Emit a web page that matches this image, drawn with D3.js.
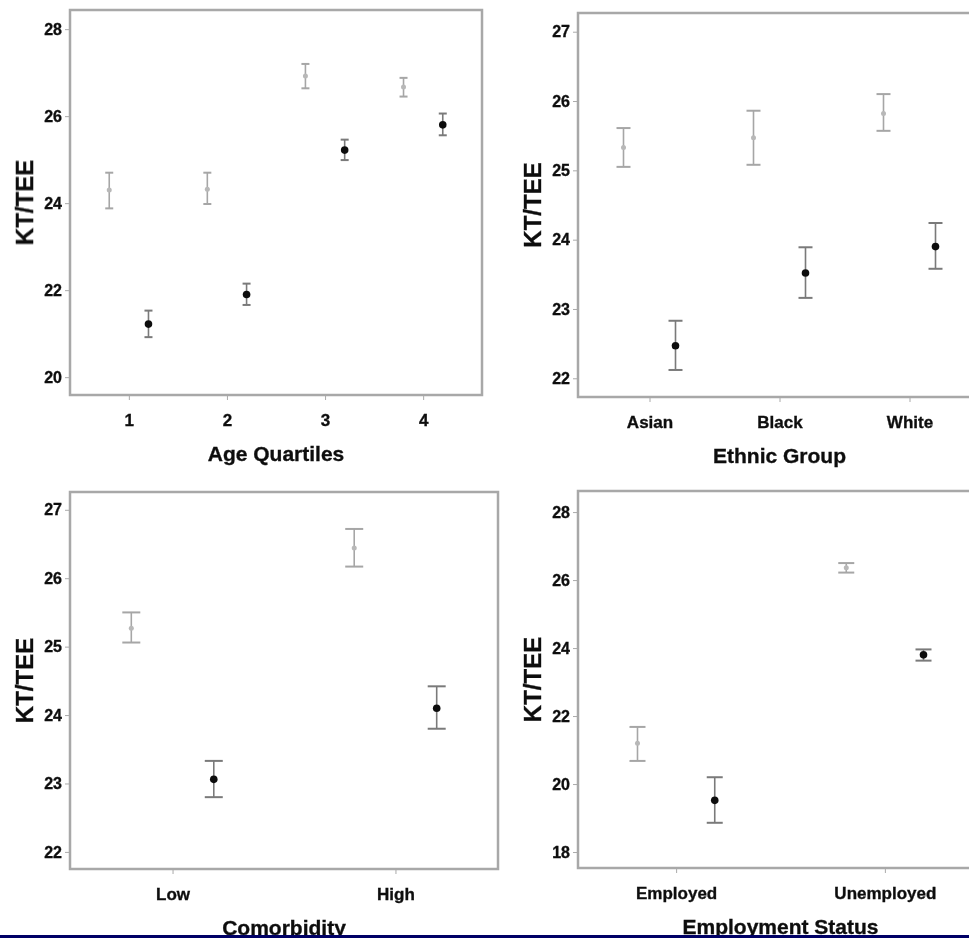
<!DOCTYPE html>
<html>
<head>
<meta charset="utf-8">
<script src="https://cdn.jsdelivr.net/npm/d3@7"></script>
<style>
  body { margin: 0; background: #fff; }
  text { font-family: "Liberation Sans", Arial, sans-serif; font-weight: bold; fill: #111; stroke: #111; stroke-width: 0.35px; }
</style>
</head>
<body>
<script>
// KT/TEE means with error bars, two groups per category (grey and black)

var ageCats = ["1", "2", "3", "4"];
var ageGrey = [24.3, 24.32, 26.92, 26.67];
var ageGreyLo = [23.88, 23.98, 26.64, 26.45];
var ageGreyHi = [24.7, 24.7, 27.2, 26.88];
var ageBlack = [21.22, 21.9, 25.22, 25.8];
var ageBlackLo = [20.92, 21.66, 24.99, 25.56];
var ageBlackHi = [21.53, 22.15, 25.46, 26.06];
var ageTicks = [20, 22, 24, 26, 28];

var ethCats = ["Asian", "Black", "White"];
var ethGrey = [25.33, 25.47, 25.82];
var ethGreyLo = [25.05, 25.08, 25.57];
var ethGreyHi = [25.61, 25.86, 26.1];
var ethBlack = [22.47, 23.52, 23.9];
var ethBlackLo = [22.12, 23.16, 23.58];
var ethBlackHi = [22.83, 23.89, 24.24];
var ethTicks = [22, 23, 24, 25, 26, 27];

var comCats = ["Low", "High"];
var comGrey = [25.27, 26.44];
var comGreyLo = [25.06, 26.17];
var comGreyHi = [25.5, 26.72];
var comBlack = [23.06, 24.1];
var comBlackLo = [22.8, 23.8];
var comBlackHi = [23.33, 24.42];
var comTicks = [22, 23, 24, 25, 26, 27];

var empCats = ["Employed", "Unemployed"];
var empGrey = [21.2, 26.36];
var empGreyLo = [20.68, 26.22];
var empGreyHi = [21.68, 26.5];
var empBlack = [19.52, 23.8];
var empBlackLo = [18.86, 23.63];
var empBlackHi = [20.2, 23.96];
var empTicks = [18, 20, 22, 24, 26, 28];

var panels = [
  { title: "Age Quartiles", cats: ageCats, grey: ageGrey, greyLo: ageGreyLo, greyHi: ageGreyHi,
    black: ageBlack, blackLo: ageBlackLo, blackHi: ageBlackHi, ticks: ageTicks,
    xd: [0.4, 4.6], yd: [19.59, 28.44], left: 70, right: 482, top: 10, bottom: 395, off: 0.2, cap: 8 },
  { title: "Ethnic Group", cats: ethCats, grey: ethGrey, greyLo: ethGreyLo, greyHi: ethGreyHi,
    black: ethBlack, blackLo: ethBlackLo, blackHi: ethBlackHi, ticks: ethTicks,
    xd: [0.45, 3.55], yd: [21.73, 27.27], left: 578, right: 981, top: 13, bottom: 397, off: 0.2, cap: 14 },
  { title: "Comorbidity", cats: comCats, grey: comGrey, greyLo: comGreyLo, greyHi: comGreyHi,
    black: comBlack, blackLo: comBlackLo, blackHi: comBlackHi, ticks: comTicks,
    xd: [0.54, 2.46], yd: [21.75, 27.26], left: 70, right: 498, top: 492, bottom: 869, off: 0.185, cap: 18 },
  { title: "Employment Status", cats: empCats, grey: empGrey, greyLo: empGreyLo, greyHi: empGreyHi,
    black: empBlack, blackLo: empBlackLo, blackHi: empBlackHi, ticks: empTicks,
    xd: [0.53, 2.47], yd: [17.53, 28.62], left: 578, right: 983, top: 491, bottom: 868, off: 0.185, cap: 16 }
];

var width = 969;
var height = 938;

var svg = d3.select("body")
  .append("svg")
  .attr("width", width)
  .attr("height", height);

svg.append("defs")
  .append("filter")
  .attr("id", "soft")
  .append("feGaussianBlur")
  .attr("stdDeviation", 0.6);

svg.append("rect")
  .attr("width", width)
  .attr("height", height)
  .attr("fill", "#fff");

var root = svg.append("g").attr("filter", "url(#soft)");

panels.forEach(function(p) {
  var g = root.append("g");

  var x = d3.scaleLinear().domain(p.xd).range([p.left, p.right]);
  var y = d3.scaleLinear().domain(p.yd).range([p.bottom, p.top]);

  // frame
  g.append("rect")
    .attr("x", p.left)
    .attr("y", p.top)
    .attr("width", p.right - p.left)
    .attr("height", p.bottom - p.top)
    .attr("fill", "none")
    .attr("stroke", "#a8a8a8")
    .attr("stroke-width", 2.5);

  var yAxis = g.append("g")
    .attr("transform", "translate(" + (p.left - 1) + ",0)")
    .call(d3.axisLeft(y).tickValues(p.ticks).tickSize(4).tickPadding(3).tickFormat(d3.format("d")));
  yAxis.select(".domain").remove();
  yAxis.selectAll(".tick line").attr("stroke", "#aaa");
  yAxis.selectAll(".tick text").style("font-size", "16px").attr("fill", "#111");

  var xAxis = g.append("g")
    .attr("transform", "translate(0," + (p.bottom + 1) + ")")
    .call(d3.axisBottom(x).tickValues(d3.range(1, p.cats.length + 1)).tickSize(4).tickPadding(14)
      .tickFormat(function(d) { return p.cats[d - 1]; }));
  xAxis.select(".domain").remove();
  xAxis.selectAll(".tick line").attr("stroke", "#aaa");
  xAxis.selectAll(".tick text").style("font-size", "17px").attr("fill", "#111");

  g.append("text")
    .attr("x", (x(1) + x(p.cats.length)) / 2)
    .attr("y", p.bottom + 66)
    .attr("text-anchor", "middle")
    .style("font-size", "21px")
    .text(p.title);

  g.append("text")
    .attr("transform", "translate(" + (p.left - 37) + "," + ((p.top + p.bottom) / 2) + ") rotate(-90)")
    .attr("text-anchor", "middle")
    .style("font-size", "24px")
    .text("KT/TEE");

  var series = [
    { m: p.grey, lo: p.greyLo, hi: p.greyHi, dx: -p.off, bar: "#a6a6a6", dot: "#b8b8b8", r: 2.5 },
    { m: p.black, lo: p.blackLo, hi: p.blackHi, dx: p.off, bar: "#7a7a7a", dot: "#111", r: 3.8 }
  ];

  series.forEach(function(s) {
    var sg = g.append("g");
    p.cats.forEach(function(c, i) {
      var cx = x(i + 1 + s.dx);
      sg.append("line")
        .attr("x1", cx).attr("x2", cx)
        .attr("y1", y(s.lo[i])).attr("y2", y(s.hi[i]))
        .attr("stroke", s.bar).attr("stroke-width", 1.6);
      [s.lo[i], s.hi[i]].forEach(function(v) {
        sg.append("line")
          .attr("x1", cx - p.cap / 2).attr("x2", cx + p.cap / 2)
          .attr("y1", y(v)).attr("y2", y(v))
          .attr("stroke", s.bar).attr("stroke-width", 2);
      });
      sg.append("circle")
        .attr("cx", cx)
        .attr("cy", y(s.m[i]))
        .attr("r", s.r)
        .attr("fill", s.dot);
    });
  });
});

// navy strip at the bottom edge
svg.append("rect")
  .attr("x", 0)
  .attr("y", 935)
  .attr("width", width)
  .attr("height", 3)
  .attr("fill", "#000066");
</script>
</body>
</html>
